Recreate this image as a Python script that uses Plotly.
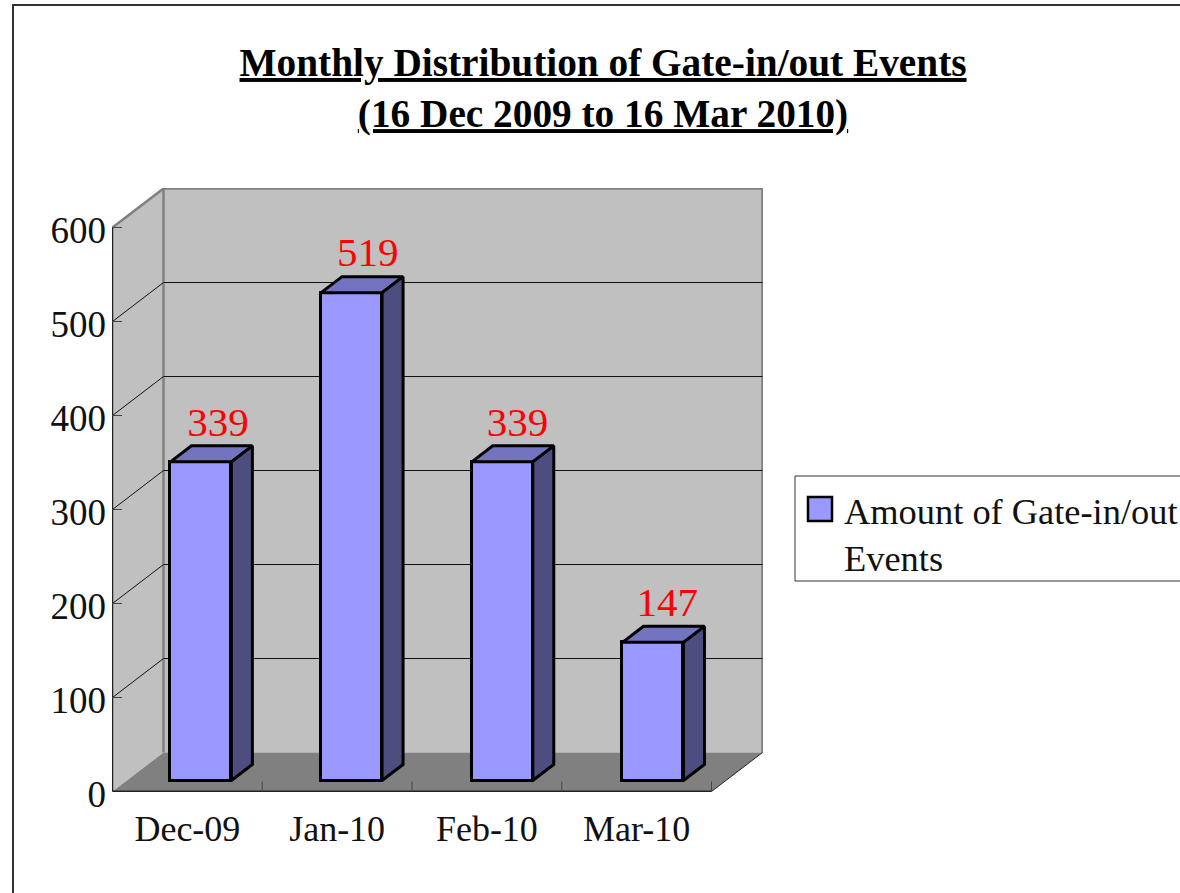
import plotly.graph_objects as go

# ---- data ----
categories = ["Dec-09", "Jan-10", "Feb-10", "Mar-10"]
values = [339, 519, 339, 147]
y_ticks = [0, 100, 200, 300, 400, 500, 600]
series_name = "Amount of Gate-in/out Events"
title_lines = ["Monthly Distribution of Gate-in/out Events", "(16 Dec 2009 to 16 Mar 2010)"]

# ---- pseudo-3D projection, expressed in axis units ----
PX_X = 149.75           # pixels per category
PX_Y = 0.94             # pixels per value unit
WALL_DX = 51 / PX_X     # depth of the box
WALL_DY = 39 / PX_Y
BAR_DX = 21 / PX_X      # depth of a bar
BAR_DY = 16 / PX_Y
BAR_PITCH = 150.7 / PX_X   # bars are spaced slightly wider than the categories
BAR_SHIFT_X = 13.5 / PX_X  # bars stand a little way back from the front edge
BAR_SHIFT_Y = 11 / PX_Y
BAR_W = 61 / PX_X
LABEL_SHIFT = 30.5 / PX_X
Y_MAX = y_ticks[-1]
X0, X1 = -0.5, len(categories) - 0.5

FONT = "Liberation Serif"
FRONT, TOP, SIDE = "#9999FF", "#7373BF", "#4D4D80"
WALL, FLOOR, EDGE = "#C0C0C0", "#808080", "#808080"

L, R, T, B = 112, 763, 188, 792
PW, PH = R - L, B - T
HALF_X, HALF_Y = 0.5 / PX_X, 0.5 / PX_Y   # keeps 1 px lines on whole pixel rows


def px(x):
    return (x - L) / PW


def py(y):
    return (B - y) / PH


fig = go.Figure()


def poly(xs, ys, fill, line=None, width=0):
    fig.add_trace(go.Scatter(
        x=xs, y=ys, mode="lines", fill="toself" if fill else None, fillcolor=fill,
        line=dict(color=line or "rgba(0,0,0,0)", width=width),
        hoverinfo="skip", showlegend=False, cliponaxis=False))


def area(xs, ys, fill=None, line=None, width=0):
    """Axis-referenced background shape, drawn below the bars."""
    d = "M" + "L".join("%r,%r" % p for p in zip(xs, ys))
    return dict(type="path", xref="x", yref="y", layer="below", path=d + ("Z" if fill else ""),
                fillcolor=fill or "rgba(0,0,0,0)",
                line=dict(color=line or "rgba(0,0,0,0)", width=width))


shapes = [
    dict(type="rect", xref="paper", yref="paper", layer="below",
         x0=px(13), x1=px(1300), y0=py(5), y1=py(1000),
         line=dict(color="#333333", width=2), fillcolor="white"),
    dict(type="rect", xref="paper", yref="paper", layer="below",
         x0=px(795), x1=px(1300), y0=py(476), y1=py(581),
         line=dict(color="#333333", width=1), fillcolor="white"),
    # legend swatch
    dict(type="rect", xref="paper", yref="paper", layer="above",
         x0=px(808), x1=px(832), y0=py(497), y1=py(521),
         line=dict(color="black", width=2.5), fillcolor=FRONT),
    # walls and floor
    area([X0 + WALL_DX, X1 + WALL_DX, X1 + WALL_DX, X0 + WALL_DX],
         [WALL_DY, WALL_DY, Y_MAX + WALL_DY, Y_MAX + WALL_DY], WALL),
    area([X0, X0 + WALL_DX, X0 + WALL_DX, X0], [0, WALL_DY, Y_MAX + WALL_DY, Y_MAX], WALL),
    area([X0, X1, X1 + WALL_DX, X0 + WALL_DX], [0, 0, WALL_DY, WALL_DY], FLOOR),
    # wall edges
    area([X0, X0 + WALL_DX, X1 + WALL_DX, X1 + WALL_DX],
         [Y_MAX, Y_MAX + WALL_DY, Y_MAX + WALL_DY, WALL_DY], None, EDGE, 2.5),
    area([X0 + WALL_DX, X0 + WALL_DX], [WALL_DY, Y_MAX + WALL_DY], None, EDGE, 2.5),
    # floor's right edge
    area([X1, X1 + WALL_DX], [0, WALL_DY], None, "#222222", 1),
]
# gridlines on both walls
for t in y_ticks[1:-1]:
    shapes.append(area([X0, X0 + WALL_DX, X1 + WALL_DX], [t, t + WALL_DY, t + WALL_DY], None, "#111111", 1))

# bars: front faces
bar_x = [i * BAR_PITCH + BAR_SHIFT_X for i in range(len(categories))]
fig.add_trace(go.Bar(
    x=bar_x, y=values, base=[BAR_SHIFT_Y] * len(values), width=BAR_W,
    marker=dict(color=FRONT, line=dict(color="black", width=3)),
    name=series_name, showlegend=False, cliponaxis=False,
    hovertemplate="%{y}<extra></extra>"))

# bars: top and side faces, value labels
for x, v in zip(bar_x, values):
    l, r = x - BAR_W / 2, x + BAR_W / 2
    b, t = BAR_SHIFT_Y, BAR_SHIFT_Y + v
    poly([l, l + BAR_DX, r + BAR_DX, r, l], [t, t + BAR_DY, t + BAR_DY, t, t], TOP, "black", 3)
    poly([r, r + BAR_DX, r + BAR_DX, r, r], [t, t + BAR_DY, b + BAR_DY, b, t], SIDE, "black", 3)

fig.add_trace(go.Scatter(
    x=[i + LABEL_SHIFT for i in range(len(categories))], y=[BAR_SHIFT_Y + v + BAR_DY for v in values],
    mode="text", text=[str(v) for v in values], textposition="top center",
    textfont=dict(family=FONT, size=41, color="#FF0000"),
    hoverinfo="skip", showlegend=False, cliponaxis=False))

# front axis lines and category separators
poly([X0, X1], [0, 0], None, "#222222", 2)
poly([X0, X0], [0, Y_MAX], None, "#222222", 1.5)
for i in range(1, len(categories) + 1):
    poly([X0 + i, X0 + i], [0, 10 / PX_Y], None, "#444444", 1)

fig.update_layout(
    width=1180, height=893,
    margin=dict(l=L, r=1180 - R, t=T, b=893 - B, autoexpand=False),
    paper_bgcolor="white", plot_bgcolor="rgba(0,0,0,0)",
    showlegend=False, bargap=0,
    font=dict(family=FONT, color="#111111"),
    title=dict(
        text="<br>".join("<b><u>%s</u></b>" % s for s in title_lines),
        x=603 / 1180, xanchor="center", y=1 - 76 / 893, yanchor="top",
        font=dict(family=FONT, size=39.3, color="black")),
    xaxis=dict(
        range=[X0 - HALF_X, X0 - HALF_X + PW / PX_X], tickmode="array",
        tickvals=list(range(len(categories))), ticktext=categories,
        ticks="", showgrid=False, zeroline=False, showline=False,
        tickfont=dict(family=FONT, size=36, color="#111111"), ticklabelstandoff=12),
    yaxis=dict(
        range=[-HALF_Y, -HALF_Y + PH / PX_Y], tickmode="array", tickvals=y_ticks,
        ticks="inside", ticklen=10, tickcolor="#444444", tickwidth=1,
        showgrid=False, zeroline=False, showline=False,
        tickfont=dict(family=FONT, size=37, color="#111111"),
        ticklabelstandoff=5, ticklabelshift=3),
    shapes=shapes,
    annotations=[dict(
        text=series_name.replace(" Events", "<br>Events"), xref="paper", yref="paper",
        x=px(842), y=py(490), xanchor="left", yanchor="top", align="left", showarrow=False,
        font=dict(family=FONT, size=36.4, color="#111111"))],
)

fig.write_html("out.html", config=dict(displayModeBar=False),
               post_script="document.body.style.margin='0';document.documentElement.style.overflow='hidden';")
